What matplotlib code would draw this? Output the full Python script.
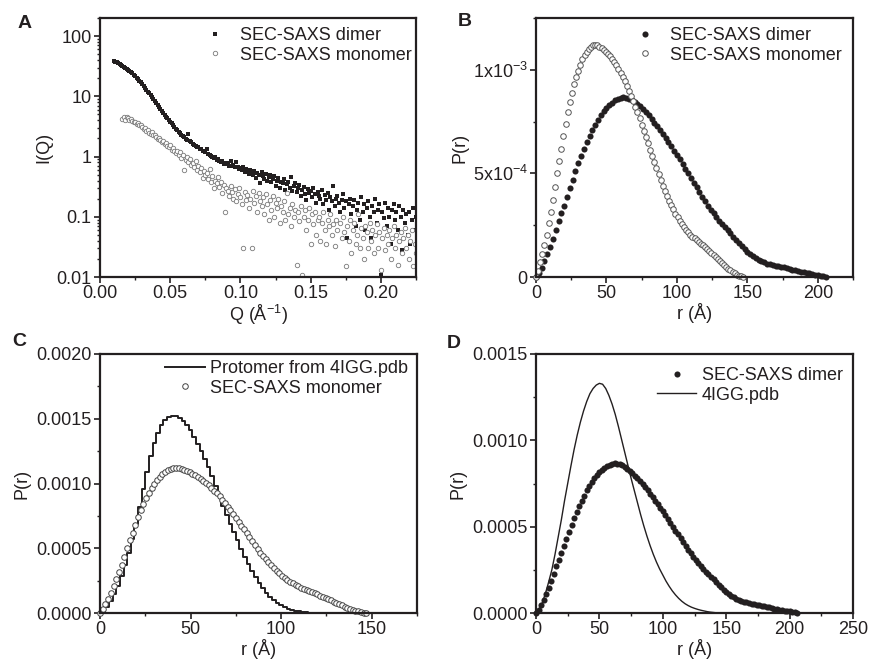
import numpy as np
import matplotlib
matplotlib.use("Agg")
import matplotlib.pyplot as plt
from matplotlib.ticker import MultipleLocator, FormatStrFormatter, FuncFormatter, LogLocator, NullFormatter

plt.rcParams['font.family'] = ['Liberation Sans', 'DejaVu Sans']
plt.rcParams['mathtext.fontset'] = 'custom'
plt.rcParams['mathtext.rm'] = 'Liberation Sans'
plt.rcParams['mathtext.it'] = 'Liberation Sans'
plt.rcParams['axes.unicode_minus'] = True

INK = '#231f20'

# ---- panel A: I(Q), Q step 0.001 ----
q_dimer_start = 0.010
i_dimer = [
    38.0, 37.3, 36.6, 35.5, 34.6, 33.4, 32.4, 31.1, 30.0, 28.9,
    27.7, 26.5, 25.3, 24.1, 22.9, 21.7, 20.5, 19.3, 18.1, 17.0,
    15.9, 14.9, 13.9, 12.9, 12.0, 11.2, 10.4, 9.7, 9.0, 8.4,
    7.8, 7.2, 6.7, 6.2, 5.75, 5.35, 4.95, 4.6, 4.3, 4.0,
    3.8, 3.55, 3.3, 3.1, 2.92, 2.73, 2.58, 2.44, 2.3, 2.18,
    2.08, 1.97, 1.9, 2.4, 1.78, 1.72, 1.63, 1.58, 1.52, 1.46,
    1.43, 1.36, 1.33, 1.26, 1.22, 1.17, 1.35, 1.1, 1.08, 1.02,
    1.0, 0.93, 0.98, 0.88, 0.92, 0.84, 0.8, 0.85, 0.76, 0.79,
    0.74, 0.77, 0.7, 0.85, 0.69, 0.72, 0.66, 0.82, 0.68, 0.62,
    0.64, 0.6, 0.66, 0.56, 0.61, 0.58, 0.52, 0.6, 0.55, 0.5,
    0.57, 0.44, 0.53, 0.5, 0.36, 0.55, 0.47, 0.43, 0.52, 0.4,
    0.45, 0.5, 0.38, 0.42, 0.48, 0.33, 0.4, 0.44, 0.3, 0.38,
    0.36, 0.42, 0.28, 0.35, 0.38, 0.3, 0.46, 0.27, 0.32, 0.36,
    0.26, 0.3, 0.34, 0.22, 0.28, 0.31, 0.24, 0.19, 0.29, 0.25,
    0.27, 0.21, 0.3, 0.24, 0.17, 0.26, 0.22, 0.2, 0.28, 0.16,
    0.23, 0.19, 0.25, 0.13, 0.21, 0.18, 0.33, 0.15, 0.2, 0.22,
    0.17, 0.12, 0.19, 0.24, 0.14, 0.18, 0.045, 0.16, 0.2, 0.11,
    0.15, 0.19, 0.07, 0.13, 0.17, 0.09, 0.21, 0.12, 0.16, 0.06,
    0.14, 0.18, 0.1, 0.045, 0.15, 0.12, 0.2, 0.08, 0.13, 0.16,
    0.011, 0.12, 0.095, 0.17, 0.07, 0.14, 0.1, 0.035, 0.13, 0.16,
    0.09, 0.12, 0.06, 0.15, 0.1, 0.028, 0.13, 0.08, 0.11, 0.05,
    0.12, 0.035, 0.09, 0.14, 0.06, 0.1,
]
q_mono_start = 0.016
i_mono = [
    4.2, 4.5, 4.1, 4.6, 4.3, 4.0, 4.2, 3.9, 3.7, 3.8,
    3.5, 3.6, 3.3, 3.4, 3.1, 2.9, 3.0, 2.7, 2.8, 2.5,
    2.4, 2.55, 2.25, 2.3, 2.1, 1.95, 2.05, 1.85, 1.75, 1.8,
    1.6, 1.7, 1.5, 1.45, 1.55, 1.3, 1.38, 1.25, 1.15, 1.22,
    1.05, 1.2, 0.95, 1.08, 0.6, 0.88, 1.0, 0.8, 0.9, 0.72,
    0.78, 0.66, 0.85, 0.6, 0.7, 0.56, 0.64, 0.44, 0.58, 0.5,
    0.53, 0.42, 0.62, 0.38, 0.47, 0.3, 0.4, 0.36, 0.45, 0.31,
    0.38, 0.25, 0.34, 0.12, 0.3, 0.27, 0.22, 0.32, 0.26, 0.2,
    0.29, 0.18, 0.24, 0.3, 0.21, 0.16, 0.03, 0.26, 0.19, 0.23,
    0.14, 0.2, 0.03, 0.27, 0.17, 0.22, 0.12, 0.25, 0.18, 0.15,
    0.21, 0.11, 0.24, 0.16, 0.09, 0.19, 0.13, 0.22, 0.1, 0.17,
    0.14, 0.2, 0.08, 0.15, 0.12, 0.18, 0.09, 0.25, 0.11, 0.14,
    0.07, 0.16, 0.1, 0.13, 0.016, 0.12, 0.085, 0.15, 0.011, 0.1,
    0.13, 0.06, 0.09, 0.14, 0.035, 0.11, 0.075, 0.12, 0.05, 0.09,
    0.1, 0.04, 0.08, 0.12, 0.06, 0.035, 0.09, 0.07, 0.11, 0.05,
    0.075, 0.033, 0.09, 0.06, 0.008, 0.08, 0.045, 0.1, 0.055, 0.015,
    0.07, 0.04, 0.09, 0.025, 0.06, 0.08, 0.035, 0.05, 0.11, 0.03,
    0.065, 0.045, 0.02, 0.07, 0.055, 0.03, 0.08, 0.04, 0.06, 0.025,
    0.05, 0.075, 0.03, 0.055, 0.013, 0.045, 0.065, 0.028, 0.05, 0.035,
    0.06, 0.02, 0.045, 0.07, 0.03, 0.05, 0.016, 0.04, 0.055, 0.025,
    0.045, 0.065, 0.03, 0.05, 0.02, 0.04, 0.06, 0.015, 0.035, 0.025,
]

# ---- P(r) curves (units of 1e-4) ----
pr_dimer_step = 2.0
pr_dimer = [
    0, 0.2, 0.45, 0.75, 1.1, 1.47, 1.85, 2.27, 2.7, 3.07,
    3.45, 3.87, 4.3, 4.7, 5.1, 5.48, 5.85, 6.18, 6.5, 6.8,
    7.1, 7.36, 7.6, 7.81, 8.0, 8.16, 8.3, 8.42, 8.52, 8.6,
    8.65, 8.67, 8.65, 8.61, 8.55, 8.46, 8.35, 8.23, 8.1, 7.96,
    7.8, 7.63, 7.45, 7.28, 7.1, 6.9, 6.7, 6.5, 6.3, 6.1,
    5.9, 5.68, 5.45, 5.22, 5.0, 4.77, 4.55, 4.32, 4.1, 3.87,
    3.65, 3.45, 3.25, 3.07, 2.9, 2.72, 2.55, 2.4, 2.25, 2.1,
    1.95, 1.8, 1.65, 1.5, 1.35, 1.22, 1.1, 1.0, 0.9, 0.82,
    0.75, 0.7, 0.65, 0.61, 0.58, 0.55, 0.52, 0.49, 0.46, 0.43,
    0.4, 0.36, 0.33, 0.29, 0.26, 0.23, 0.2, 0.17, 0.14, 0.11,
    0.09, 0.06, 0.04, 0.0,
]
pr_mono_step = 1.5
pr_mono = [
    0, 0.3, 0.7, 1.1, 1.55, 2.05, 2.6, 3.15, 3.7, 4.35,
    5.0, 5.6, 6.2, 6.8, 7.4, 7.95, 8.45, 8.9, 9.3, 9.65,
    9.95, 10.25, 10.5, 10.7, 10.88, 11.02, 11.12, 11.18, 11.2, 11.18,
    11.12, 11.05, 10.97, 10.87, 10.77, 10.65, 10.52, 10.38, 10.22, 10.05,
    9.86, 9.66, 9.45, 9.24, 9.0, 8.75, 8.5, 8.22, 7.94, 7.65,
    7.35, 7.05, 6.75, 6.45, 6.15, 5.85, 5.55, 5.25, 4.95, 4.67,
    4.4, 4.14, 3.9, 3.68, 3.46, 3.26, 3.06, 2.88, 2.7, 2.55,
    2.41, 2.28, 2.16, 2.05, 1.95, 1.86, 1.77, 1.69, 1.61, 1.53,
    1.44, 1.35, 1.26, 1.17, 1.07, 0.97, 0.87, 0.77, 0.67, 0.58,
    0.49, 0.41, 0.33, 0.25, 0.18, 0.12, 0.07, 0.03, 0.0,
]
pr_protomer_step = 2.0
pr_protomer = [
    0, 0.15, 0.45, 0.9, 1.45, 2.1, 2.85, 3.7, 4.65, 5.7,
    6.9, 8.2, 9.6, 10.9, 12.1, 13.1, 13.9, 14.5, 14.9, 15.15,
    15.25, 15.2, 15.05, 14.8, 14.5, 14.1, 13.6, 13.05, 12.5, 11.9,
    11.25, 10.55, 9.8, 9.05, 8.3, 7.6, 6.9, 6.25, 5.6, 4.95,
    4.35, 3.8, 3.25, 2.75, 2.3, 1.9, 1.55, 1.25, 1.0, 0.78,
    0.6, 0.45, 0.33, 0.24, 0.17, 0.12, 0.08, 0.05, 0.03, 0.015,
    0.0,
]
pr_4igg_step = 2.5
pr_4igg = [
    0, 0.2, 0.6, 1.15, 1.8, 2.5, 3.4, 4.4, 5.4, 6.5,
    7.5, 8.5, 9.45, 10.3, 11.05, 11.7, 12.25, 12.7, 13.0, 13.2,
    13.3, 13.25, 13.0, 12.6, 12.1, 11.5, 10.8, 10.05, 9.3, 8.55,
    7.8, 7.1, 6.4, 5.7, 5.05, 4.45, 3.9, 3.4, 2.95, 2.55,
    2.2, 1.85, 1.55, 1.28, 1.05, 0.85, 0.68, 0.54, 0.43, 0.34,
    0.27, 0.21, 0.16, 0.12, 0.08, 0.05, 0.03, 0.01, 0.0,
]

q_d = q_dimer_start + 0.001 * np.arange(len(i_dimer))
q_m = q_mono_start + 0.001 * np.arange(len(i_mono))
r_d = pr_dimer_step * np.arange(len(pr_dimer))
r_m = pr_mono_step * np.arange(len(pr_mono))
r_p = pr_protomer_step * np.arange(len(pr_protomer))
r_4 = pr_4igg_step * np.arange(len(pr_4igg))
p_d = np.array(pr_dimer) * 1e-4
p_m = np.array(pr_mono) * 1e-4
p_p = np.array(pr_protomer) * 1e-4
p_4 = np.array(pr_4igg) * 1e-4

fig = plt.figure(figsize=(8.7, 6.64), dpi=100)
W, H = 870, 664


def place(l, t, r, b):
    return fig.add_axes([l / W, 1 - b / H, (r - l) / W, (b - t) / H])


axA = place(100, 18, 416, 277)
axB = place(536, 18, 853, 277)
axC = place(100, 354, 417, 613)
axD = place(536, 354, 853, 613)

FS = 13


def style(ax):
    for s in ax.spines.values():
        s.set_linewidth(1.6)
        s.set_color(INK)
    ax.tick_params(which='both', direction='out', top=False, right=False,
                   labelsize=FS, colors=INK, pad=2)
    ax.tick_params(which='major', length=4, width=1.2)
    ax.tick_params(which='minor', length=2.5, width=1.0)


def legend(ax, x, y):
    lg = ax.legend(loc='upper right', bbox_to_anchor=(x, y), frameon=False,
                   fontsize=FS, handlelength=2.2, handletextpad=0.3,
                   labelspacing=0.15, borderpad=0, borderaxespad=0)
    for t in lg.get_texts():
        t.set_color(INK)


# A
ax = axA
ax.plot(q_d, i_dimer, ls='none', marker='s', ms=2.7, mfc=INK, mec=INK, mew=0,
        label='SEC-SAXS dimer')
ax.plot(q_m, i_mono, ls='none', marker='o', ms=3.2, mfc='white', mec='#7a7a7a',
        mew=0.6, label='SEC-SAXS monomer')
ax.set_yscale('log')
ax.set_xlim(0, 0.225)
ax.set_ylim(0.01, 200)
ax.xaxis.set_major_locator(MultipleLocator(0.05))
ax.xaxis.set_minor_locator(MultipleLocator(0.025))
ax.xaxis.set_major_formatter(FormatStrFormatter('%.2f'))
ax.yaxis.set_major_locator(LogLocator(base=10, numticks=10))
ax.yaxis.set_minor_locator(LogLocator(base=10, subs=np.arange(2, 10), numticks=20))
ax.yaxis.set_major_formatter(FuncFormatter(lambda v, _: f'{v:g}'))
ax.yaxis.set_minor_formatter(NullFormatter())
ax.set_xlabel('Q (Å$^{-1}$)', fontsize=FS, labelpad=0.5, color=INK)
ax.set_ylabel('I(Q)', fontsize=FS, labelpad=3, color=INK)
style(ax)
legend(ax, 0.987, 0.965)

# B
ax = axB
ax.plot(r_d, p_d, ls='none', marker='o', ms=4.4, mfc=INK, mec=INK, mew=0,
        clip_on=False, label='SEC-SAXS dimer')
ax.plot(r_m, p_m, ls='none', marker='o', ms=4.0, mfc='white', mec='#555555',
        mew=0.7, clip_on=False, label='SEC-SAXS monomer')
ax.set_xlim(0, 225)
ax.set_ylim(0, 1.25e-3)
ax.xaxis.set_major_locator(MultipleLocator(50))
ax.xaxis.set_minor_locator(MultipleLocator(25))
ax.set_yticks([0, 5e-4, 1e-3])
ax.set_yticklabels(['0', '5x10$^{-4}$', '1x10$^{-3}$'])
ax.yaxis.set_minor_locator(MultipleLocator(2.5e-4))
ax.set_xlabel('r (Å)', fontsize=FS, labelpad=0.5, color=INK)
ax.set_ylabel('P(r)', fontsize=FS, labelpad=3, color=INK)
style(ax)
legend(ax, 0.965, 0.965)

# C
ax = axC
ax.plot(r_p, p_p, drawstyle='steps-mid', color=INK, lw=1.4,
        label='Protomer from 4IGG.pdb')
ax.plot(r_m, p_m, ls='none', marker='o', ms=4.0, mfc='white', mec='#444444',
        mew=0.7, clip_on=False, label='SEC-SAXS monomer')
ax.set_xlim(0, 175)
ax.set_ylim(0, 0.002)
ax.xaxis.set_major_locator(MultipleLocator(50))
ax.xaxis.set_minor_locator(MultipleLocator(25))
ax.yaxis.set_major_locator(MultipleLocator(0.0005))
ax.yaxis.set_minor_locator(MultipleLocator(0.00025))
ax.yaxis.set_major_formatter(FormatStrFormatter('%.4f'))
ax.set_xlabel('r (Å)', fontsize=FS, labelpad=0.5, color=INK)
ax.set_ylabel('P(r)', fontsize=FS, labelpad=4, color=INK)
style(ax)
legend(ax, 0.972, 0.977)

# D
ax = axD
ax.plot(r_d, p_d, ls='none', marker='o', ms=4.4, mfc=INK, mec=INK, mew=0,
        clip_on=False, label='SEC-SAXS dimer')
ax.plot(r_4, p_4, color=INK, lw=1.0, label='4IGG.pdb')
ax.set_xlim(0, 250)
ax.set_ylim(0, 0.0015)
ax.xaxis.set_major_locator(MultipleLocator(50))
ax.xaxis.set_minor_locator(MultipleLocator(25))
ax.yaxis.set_major_locator(MultipleLocator(0.0005))
ax.yaxis.set_minor_locator(MultipleLocator(0.00025))
ax.yaxis.set_major_formatter(FormatStrFormatter('%.4f'))
ax.set_xlabel('r (Å)', fontsize=FS, labelpad=0.5, color=INK)
ax.set_ylabel('P(r)', fontsize=FS, labelpad=4, color=INK)
style(ax)
legend(ax, 0.968, 0.95)

for lbl, x, y in [('A', 18, 15), ('B', 458, 13), ('C', 12, 333), ('D', 447, 335)]:
    fig.text(x / W, 1 - y / H, lbl, fontsize=14, fontweight='bold', va='top',
             ha='left', color=INK)

fig.savefig('out.png', dpi=100)
